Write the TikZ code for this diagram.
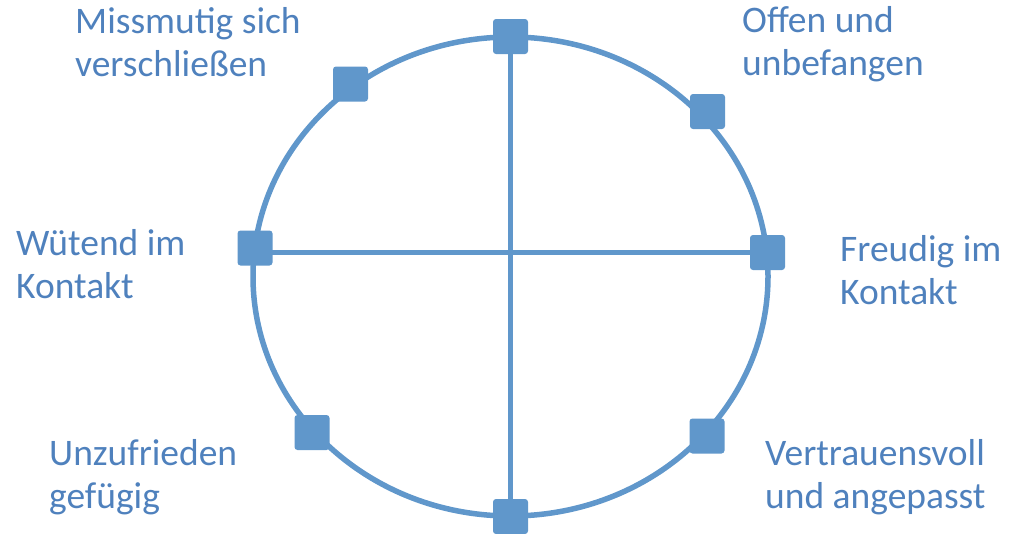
\documentclass[tikz,border=0pt]{standalone}
\usepackage{fontspec}
\setmainfont{Carlito}
\definecolor{shapeblue}{HTML}{6097CB}
\definecolor{textblue}{HTML}{4F81BD}
\tikzset{
  sq/.style={fill=shapeblue, draw=none, rounded corners=3pt, minimum size=35pt, inner sep=0pt},
  ring/.style={draw=shapeblue, line width=5.5pt},
  axis/.style={draw=shapeblue, line width=5.5pt},
  lbl/.style={text=textblue, anchor=base west, inner sep=0pt, align=left, font=\fontsize{37.5}{43}\selectfont}
}
\begin{document}
\begin{tikzpicture}[x=1pt,y=-1pt]
\useasboundingbox (0,0) rectangle (1009,533);
% anchor points
\coordinate (c) at (510.5,276.5);
\coordinate (pt) at (510.5,36.5);
\coordinate (pb) at (510.5,516.5);
\coordinate (pl) at (255,248);
\coordinate (pr) at (767.5,252.5);
\coordinate (ptl) at (350.5,84);
\coordinate (ptr) at (707.5,111.5);
\coordinate (pbl) at (312,432.5);
\coordinate (pbr) at (707,436);
% ring and axes
\draw[ring] (c) ellipse [x radius=257.5pt, y radius=239.5pt];
\draw[axis] (pt) -- (pb);
\draw[axis] (pl |- pr) -- (pr);
% squares
\node[sq] (st) at (pt) {};
\node[sq] (sb) at (pb) {};
\node[sq] (sl) at (pl) {};
\node[sq] (sr) at (pr) {};
\node[sq] (stl) at (ptl) {};
\node[sq] (str) at (ptr) {};
\node[sq] (sbl) at (pbl) {};
\node[sq] (sbr) at (pbr) {};
% labels (anchored at the baseline of their last line)
\node[lbl] (ltl) at (75,76) {Missmutig sich\\verschließen};
\node[lbl] (ltr) at (742,75) {Offen und\\unbefangen};
\node[lbl] (ll) at (16,298) {Wütend im\\Kontakt};
\node[lbl] (lr) at (840,304) {Freudig im\\Kontakt};
\node[lbl] (lbl) at (49,508) {Unzufrieden\\gefügig};
\node[lbl] (lbr) at (765,508) {Vertrauensvoll\\und angepasst};
\end{tikzpicture}
\end{document}
